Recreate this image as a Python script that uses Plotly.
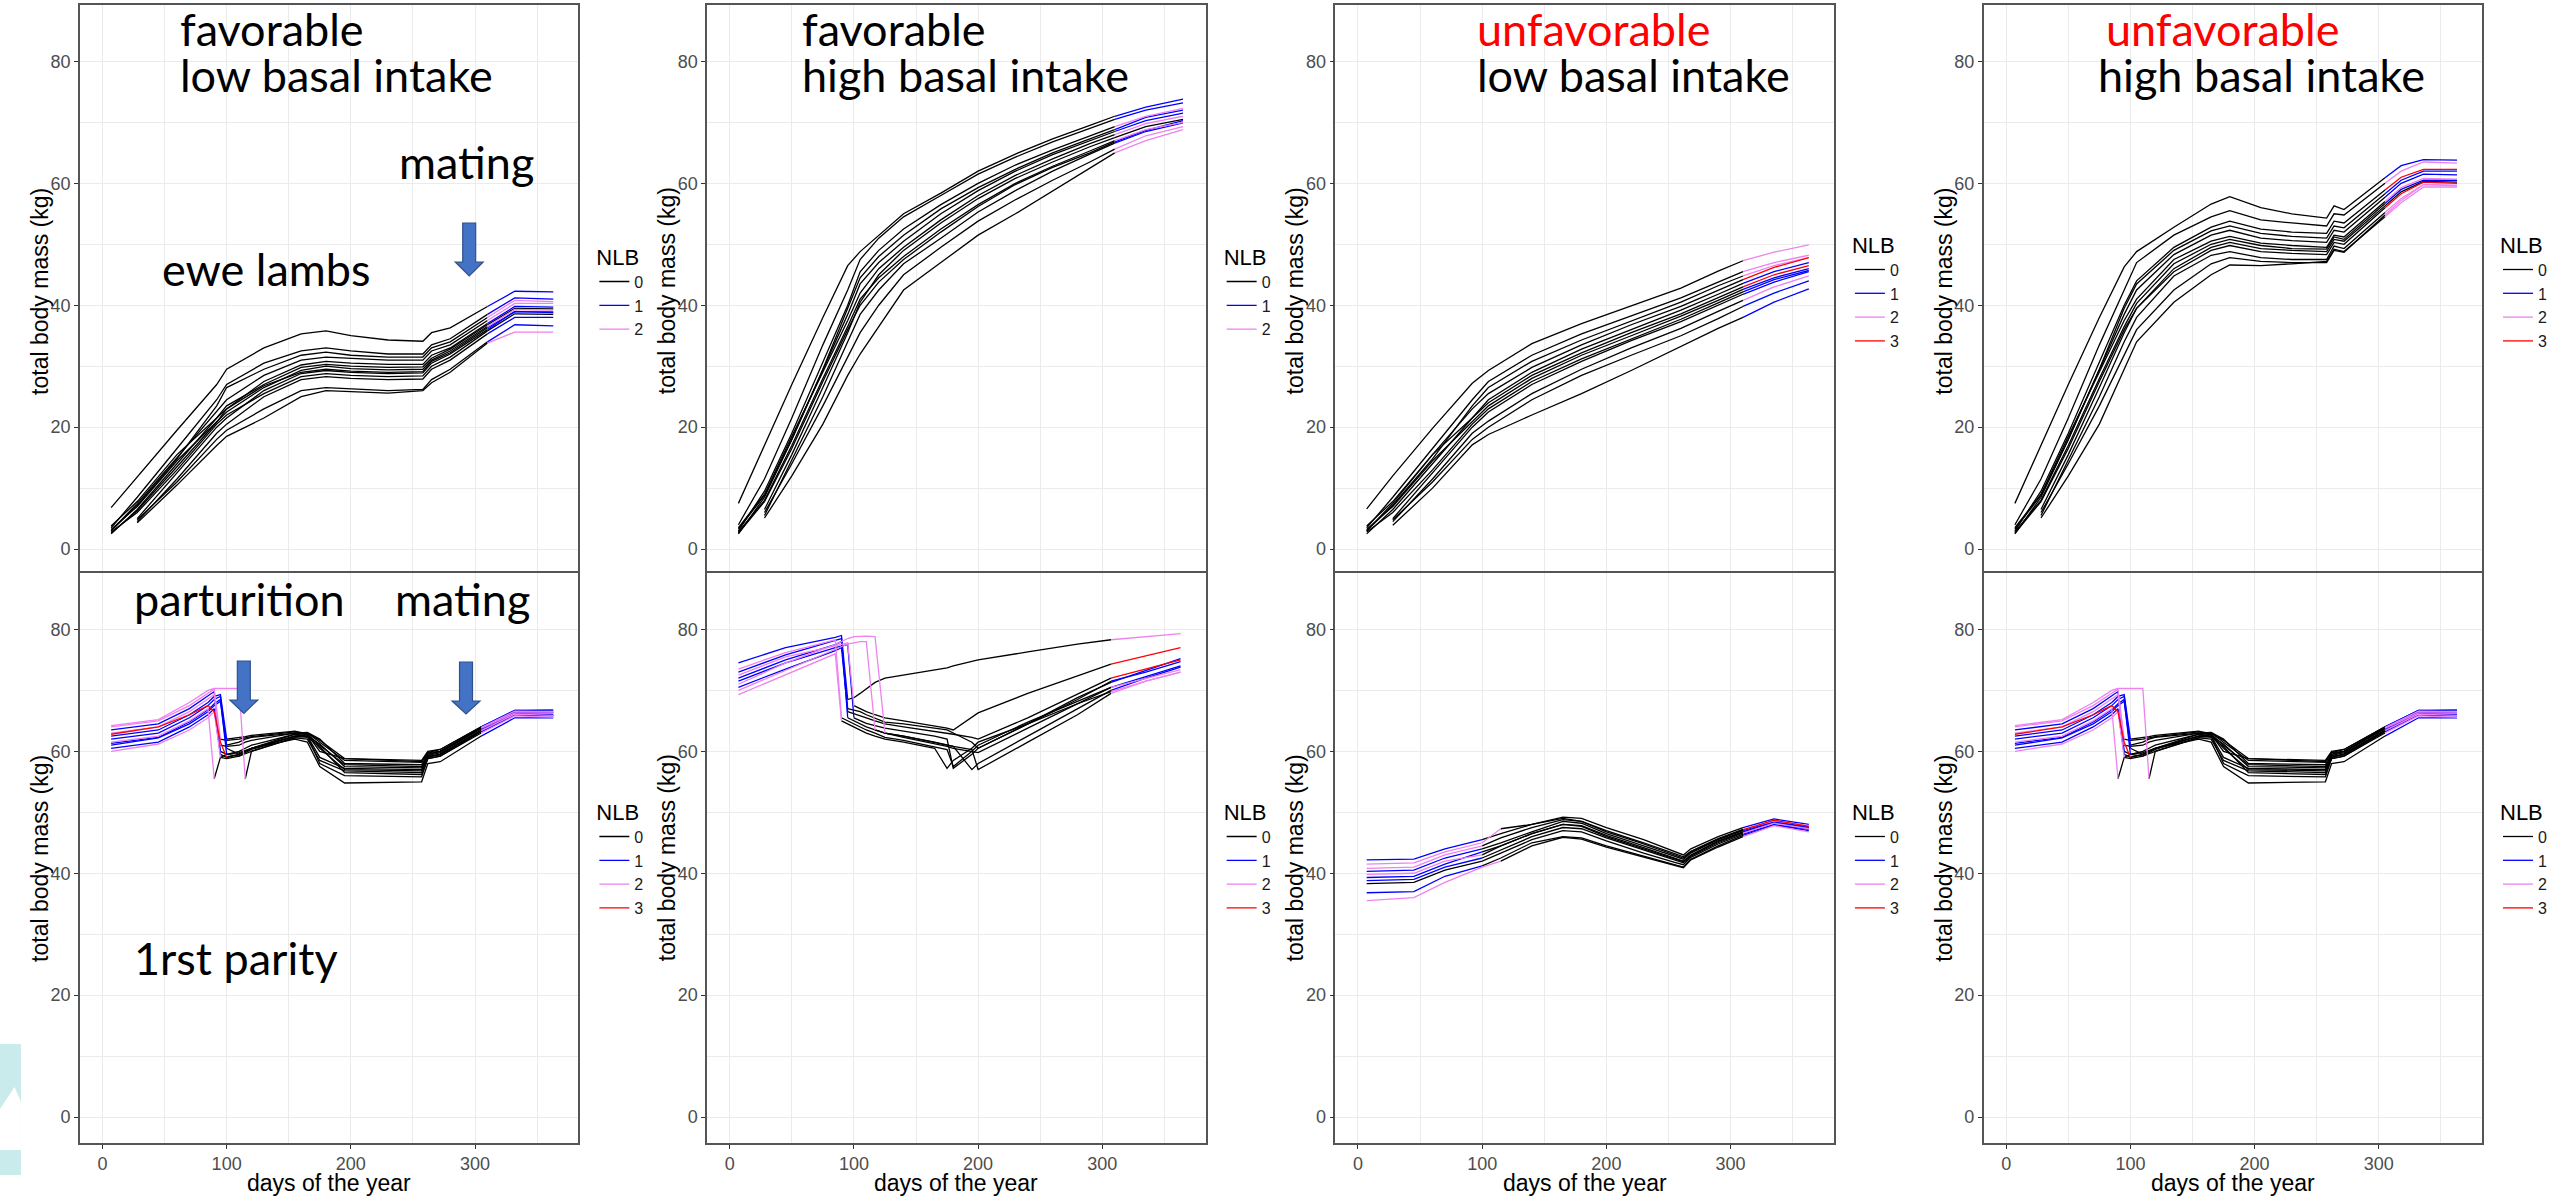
import plotly.graph_objects as go

W, H = 2552, 1197

NLB_LEVELS = [0, 1, 2, 3]
NLB_COLORS = ["black", "blue", "violet", "red"]

# ---------------- Panel 1: favorable, low basal intake (ewe lambs) ----------------
p1_days = [7, 28, 60, 92, 100, 130, 160, 180, 200, 230, 258, 265, 280, 310, 332, 363]
p1_mass = [
    [6.8, 11.9, 19.5, 27.0, 29.5, 33.0, 35.3, 35.8, 35.0, 34.3, 34.1, 35.5, 36.3, 39.8, 42.3, 42.2],
    [3.5, 8.5, 16.5, 24.5, 27.0, 30.5, 32.5, 33.0, 32.5, 32.0, 32.0, 33.5, 34.5, 38.5, 41.2, 41.0],
    [3.0, 7.5, 15.0, 22.5, 24.5, 28.5, 31.0, 31.5, 31.3, 31.0, 31.0, 32.5, 33.5, 37.5, 40.3, 40.3],
    [2.5, 6.5, 14.0, 21.5, 23.0, 27.5, 30.2, 30.8, 30.5, 30.3, 30.3, 31.8, 33.0, 37.0, 39.8, 39.7],
    [3.2, 7.0, 14.5, 21.0, 22.5, 26.5, 29.3, 30.0, 29.6, 29.4, 29.5, 31.0, 32.5, 36.5, 39.3, 39.2],
    [None, 5.0, 12.5, 20.0, 21.5, 26.0, 28.8, 29.3, 29.0, 28.8, 28.9, 30.5, 32.0, 36.0, 39.0, 38.8],
    [2.8, 6.0, 13.0, 20.5, 22.0, 25.5, 28.3, 28.8, 28.5, 28.3, 28.4, 30.0, 31.5, 35.8, 38.6, 38.5],
    [None, 4.5, 11.5, 19.0, 20.5, 25.0, 27.8, 28.3, 28.0, 27.8, 27.9, 29.5, 31.0, 35.3, 38.0, 38.0],
    [3.8, 7.8, 15.5, 21.5, 23.5, 27.0, 29.8, 30.3, 30.0, 29.8, 29.9, 31.3, 32.8, 36.8, 39.5, 39.4],
    [None, 4.8, 11.0, 18.0, 19.5, 23.0, 26.0, 26.5, 26.3, 26.0, 26.2, 27.8, 29.5, 34.0, 36.8, 36.6],
    [None, 4.3, 10.5, 17.0, 18.5, 21.5, 25.0, 26.0, 25.8, 25.6, 26.0, 27.3, 29.0, 33.8, 35.6, 35.6],
    [3.0, 7.2, 14.8, 23.5, 26.5, 29.5, 31.8, 32.3, 31.8, 31.5, 31.5, 33.0, 34.0, 38.0, 40.8, 40.6],
    [2.6, 6.3, 13.5, 20.8, 23.0, 26.8, 29.0, 29.5, 29.2, 29.0, 29.1, 30.8, 32.2, 36.3, 38.9, 38.9],
]
p1_nlb = [1, 1, 2, 1, 2, 1, 0, 1, 0, 1, 2, 2, 1]
p1_mating = 310

# ---------------- Panel 2: favorable, high basal intake ----------------
p2_days = [7, 28, 50, 75, 95, 105, 120, 140, 170, 200, 230, 260, 290, 310, 335, 365]
p2_mass = [
    [7.5, 17.0, 27.0, 38.0, 46.5, 48.8, 51.5, 55.0, 58.4, 62.0, 64.8, 67.3, 69.5, 71.0, 72.5, 73.8],
    [4.0, 11.5, 21.5, 33.5, 42.5, 47.5, 51.0, 54.5, 58.0, 61.5, 64.3, 66.8, 69.0, 70.5, 72.0, 73.2],
    [3.0, 9.5, 19.0, 30.5, 40.0, 45.5, 49.0, 52.5, 56.5, 60.0, 63.0, 65.5, 67.8, 69.3, 71.0, 72.3],
    [2.5, 8.5, 18.0, 29.5, 38.5, 43.5, 47.0, 50.5, 55.0, 58.8, 62.0, 64.7, 67.0, 68.5, 70.3, 71.5],
    [3.5, 9.0, 18.5, 29.0, 37.5, 42.0, 46.0, 49.5, 54.0, 58.0, 61.3, 64.0, 66.5, 68.0, 69.8, 71.0],
    [None, 6.5, 15.5, 26.5, 35.5, 40.5, 45.0, 49.0, 53.5, 57.5, 60.8, 63.5, 66.0, 67.5, 69.3, 70.5],
    [2.8, 8.0, 17.0, 28.0, 36.5, 41.0, 44.5, 48.0, 52.5, 56.5, 60.0, 62.8, 65.3, 67.0, 68.8, 70.0],
    [None, 5.5, 14.5, 25.0, 34.0, 38.5, 42.5, 46.8, 51.0, 55.3, 58.8, 62.0, 64.8, 66.6, 68.5, 69.9],
    [None, 5.1, 12.0, 20.5, 28.5, 32.0, 36.5, 42.5, 47.0, 51.5, 55.0, 58.7, 62.5, 65.0, 67.0, 68.8],
    [3.3, 8.8, 18.0, 29.5, 39.5, 44.5, 48.0, 51.5, 55.8, 59.3, 62.3, 65.0, 67.3, 68.8, 70.8, 72.0],
    [None, 6.0, 14.0, 23.5, 31.5, 35.5, 40.0, 45.0, 49.5, 53.8, 57.3, 60.5, 63.5, 65.6, 67.8, 69.3],
    [2.6, 7.8, 16.5, 27.5, 36.0, 40.0, 43.8, 47.5, 52.0, 56.2, 59.8, 62.6, 65.0, 66.8, 68.7, 70.3],
]
p2_nlb = [1, 1, 2, 1, 2, 0, 2, 1, 2, 1, 2, 1]
p2_mating = 310

# ---------------- Panel 3: unfavorable, low basal intake ----------------
p3_days = [7, 28, 60, 92, 105, 140, 180, 220, 260, 290, 310, 335, 363]
p3_mass = [
    [6.6, 12.0, 19.8, 27.2, 29.3, 33.7, 37.0, 39.9, 42.8, 45.6, 47.3, 48.7, 49.9],
    [3.5, 8.5, 16.5, 24.5, 27.5, 31.8, 35.3, 38.2, 41.2, 43.8, 45.5, 47.0, 48.2],
    [3.0, 7.5, 15.5, 23.0, 25.5, 29.8, 33.5, 36.8, 39.8, 42.5, 44.2, 46.2, 47.8],
    [2.5, 6.5, 14.0, 21.5, 24.0, 28.5, 32.2, 35.5, 38.6, 41.3, 43.0, 45.0, 46.5],
    [3.2, 7.0, 14.5, 21.0, 23.5, 28.0, 31.8, 35.0, 38.2, 40.8, 42.6, 44.5, 46.0],
    [None, 5.0, 12.5, 20.0, 22.5, 27.0, 30.8, 34.2, 37.3, 40.0, 41.8, 43.8, 45.5],
    [2.8, 6.0, 13.0, 20.5, 23.0, 27.5, 31.2, 34.5, 37.7, 40.4, 42.2, 44.2, 45.7],
    [None, 4.5, 11.5, 19.0, 21.0, 25.5, 29.5, 33.0, 36.2, 39.0, 40.8, 43.0, 44.8],
    [3.8, 7.8, 15.5, 21.5, 24.5, 29.0, 32.8, 36.0, 39.2, 41.8, 43.6, 45.5, 47.0],
    [None, 4.8, 11.0, 18.0, 20.0, 24.5, 28.5, 31.8, 35.0, 37.8, 39.8, 42.0, 44.0],
    [None, 3.9, 10.0, 17.1, 18.8, 22.0, 25.5, 29.3, 33.3, 36.2, 38.0, 40.5, 42.7],
    [3.0, 7.2, 14.8, 23.5, 26.5, 30.8, 34.3, 37.4, 40.5, 43.2, 44.8, 46.5, 47.8],
]
p3_nlb = [2, 2, 3, 3, 1, 1, 1, 2, 1, 1, 1, 2]
p3_mating = 310

# ---------------- Panel 4: unfavorable, high basal intake ----------------
p4_days = [7, 28, 50, 75, 95, 105, 135, 165, 180, 205, 230, 258, 264, 272, 305, 318, 336, 363]
p4_mass = [
    [7.5, 17.0, 27.0, 38.0, 46.3, 48.8, 52.8, 56.6, 57.8, 56.0, 55.0, 54.3, 56.3, 55.7, 60.9, 62.9, 63.9, 63.8],
    [4.0, 11.5, 21.5, 33.5, 42.5, 47.0, 51.5, 54.5, 55.5, 54.0, 53.5, 53.0, 55.0, 54.8, 60.0, 62.0, 63.5, 63.3],
    [3.0, 9.5, 19.0, 30.5, 40.0, 44.0, 49.5, 52.8, 53.8, 52.5, 52.0, 51.8, 53.8, 53.5, 58.9, 61.0, 62.3, 62.3],
    [2.5, 8.5, 18.0, 29.5, 38.5, 42.5, 48.3, 51.5, 52.3, 51.0, 50.6, 50.3, 52.3, 52.0, 57.7, 60.0, 61.5, 61.4],
    [3.5, 9.0, 18.5, 29.0, 37.5, 41.0, 47.5, 50.5, 51.3, 50.2, 49.8, 49.5, 51.5, 51.2, 57.0, 59.3, 60.8, 60.7],
    [None, 6.5, 15.5, 26.5, 35.5, 39.5, 46.0, 49.5, 50.3, 49.3, 49.0, 48.8, 50.8, 50.5, 56.3, 58.6, 60.3, 60.2],
    [2.8, 8.0, 17.0, 28.0, 36.5, 40.3, 46.8, 50.0, 50.8, 49.8, 49.3, 49.2, 51.2, 50.8, 56.7, 59.0, 60.5, 60.5],
    [None, 5.5, 14.5, 25.0, 34.0, 38.0, 44.8, 48.2, 48.8, 47.8, 47.5, 47.5, 49.7, 49.3, 55.2, 57.5, 59.8, 59.6],
    [None, 5.1, 12.0, 20.5, 29.5, 34.0, 40.5, 45.0, 46.6, 46.5, 46.8, 47.2, 49.2, 48.8, 54.5, 56.8, 59.4, 59.4],
    [3.3, 8.8, 18.0, 29.5, 39.5, 43.5, 49.0, 52.2, 53.0, 51.8, 51.3, 51.0, 53.0, 52.7, 58.3, 60.5, 62.0, 62.0],
    [None, 6.0, 14.0, 23.5, 32.0, 36.0, 42.5, 46.8, 47.8, 47.2, 47.0, 47.0, 49.0, 48.7, 54.8, 57.2, 59.8, 59.7],
    [2.6, 7.8, 16.5, 27.5, 36.0, 39.5, 45.5, 49.0, 49.8, 48.8, 48.5, 48.3, 50.3, 50.0, 56.0, 58.3, 60.2, 60.0],
]
p4_nlb = [1, 2, 3, 1, 2, 0, 1, 2, 2, 1, 2, 3]
p4_mating = 305

# ---------------- Panel 5: favorable, low basal intake (1rst parity) ----------------
p5_days = [7, 45, 70, 85, 90, 95, 100, 110, 115, 120, 155, 165, 175, 195, 257, 262, 272, 305, 332, 363]
p5_mass = [
    [64.0, 65.0, 67.5, 69.5, 70.2, 62.0, 61.8, 62.0, 62.2, 62.4, 63.2, 63.0, 61.5, 58.5, 58.2, 59.8, 60.3, 64.0, 66.7, 66.6],
    [63.5, 64.5, 67.0, 69.0, 69.8, 60.0, 59.5, 59.8, 60.2, 60.5, 62.5, 62.8, 61.0, 57.8, 57.5, 59.3, 59.8, 63.7, 66.4, 66.3],
    [62.8, 64.0, 66.0, 67.5, 66.5, 61.5, 59.0, 59.5, 60.0, 60.5, 62.8, 63.0, 61.8, 58.8, 58.3, 59.8, 60.0, 63.8, 66.3, 66.3],
    [62.0, 63.0, 65.5, 67.5, 68.5, 69.0, 61.0, 61.5, 62.0, 62.3, 63.0, 62.8, 60.5, 57.0, 56.8, 59.0, 59.6, 63.5, 66.2, 66.0],
    [61.0, 62.2, 64.5, 66.5, 67.5, 68.2, 60.5, 59.5, 60.0, 60.5, 62.5, 62.5, 59.0, 57.2, 57.0, 59.2, 59.4, 63.3, 66.0, 65.8],
    [60.0, 61.2, 63.5, 65.5, 66.5, 59.0, 58.8, 59.2, 59.8, 60.3, 62.5, 62.3, 60.8, 56.5, 56.2, 58.8, 59.2, 63.0, 65.8, 65.6],
    [64.2, 65.2, 68.0, 70.0, 70.3, 70.3, 70.3, 70.3, 55.5, 60.0, 62.3, 62.5, 61.2, 57.5, 57.3, 59.5, 60.0, 63.8, 66.5, 66.4],
    [61.5, 62.5, 65.0, 67.0, 55.5, 59.0, 59.5, 60.0, 60.5, 61.0, 62.8, 62.5, 58.0, 56.0, 55.8, 58.8, 59.2, 63.2, 66.0, 65.9],
    [62.5, 63.5, 66.0, 68.0, 69.0, 69.3, 62.0, 62.2, 62.4, 62.6, 63.3, 62.8, 60.0, 58.8, 58.5, 60.0, 60.3, 64.0, 66.7, 66.8],
    [60.5, 61.5, 64.0, 66.0, 67.0, 59.5, 59.0, 59.5, 60.0, 60.5, 62.0, 61.5, 57.5, 54.8, 55.0, 58.0, 58.3, 62.5, 65.5, 65.5],
    [63.0, 64.0, 66.5, 68.5, 69.3, 61.0, 60.8, 61.0, 61.5, 61.8, 63.0, 63.1, 62.0, 58.0, 57.8, 59.5, 60.0, 63.9, 66.6, 66.5],
    [61.3, 62.3, 64.8, 66.8, 67.8, 68.5, 59.5, 59.2, 59.6, 60.0, 62.2, 62.0, 58.5, 56.8, 56.5, 59.0, 59.5, 63.4, 66.1, 65.9],
]
p5_nlb = [2, 1, 3, 1, 1, 2, 2, 2, 1, 1, 2, 1]
p5_birth = [95, 95, 100, 100, 100, 95, 115, 90, 100, 95, 95, 100]
p5_next = [1, 1, 2, 1, 1, 2, 1, 1, 1, 1, 2, 2]
p5_mating = 305

# ---------------- Panel 6: favorable, high basal intake (1rst parity) ----------------
p6_days = [7, 45, 85, 90, 95, 100, 105, 110, 117, 125, 140, 165, 175, 180, 195, 200, 240, 280, 307, 335, 363]
p6_mass = [
    [74.5, 77.0, 78.7, 79.0, 68.5, 68.8, 69.5, 70.3, 71.3, 72.0, 72.5, 73.3, 73.7, 74.0, 74.7, 75.0, 76.3, 77.6, 78.3, 78.8, 79.3],
    [73.5, 76.2, 78.3, 65.5, 65.0, 64.5, 64.0, 63.5, 63.0, 62.3, 61.8, 60.8, 60.3, 57.5, 60.0, 61.0, 64.8, 68.2, 70.5, 72.0, 73.4],
    [72.0, 75.0, 77.5, 78.0, 67.0, 66.8, 66.5, 66.0, 65.5, 64.8, 64.5, 63.8, 63.5, 63.0, 61.5, 60.5, 64.5, 68.5, 71.5, 73.0, 74.7],
    [71.0, 74.5, 77.5, 78.0, 78.5, 78.8, 78.9, 78.9, 78.8, 63.0, 62.5, 61.5, 61.0, 60.8, 60.3, 57.0, 61.5, 66.0, 69.5, 71.5, 73.0],
    [71.5, 74.5, 77.0, 77.3, 77.5, 65.5, 65.0, 64.6, 64.2, 63.8, 63.3, 62.5, 62.0, 57.2, 59.5, 60.5, 64.5, 68.8, 71.3, 73.2, 75.2],
    [69.3, 72.5, 76.0, 65.0, 64.5, 64.0, 63.5, 63.0, 62.5, 62.0, 61.5, 60.5, 57.2, 58.5, 60.5, 61.5, 64.5, 67.8, 69.8, 71.5, 73.0],
    [70.5, 73.5, 76.5, 77.0, 66.5, 66.2, 65.8, 65.5, 65.0, 64.5, 64.0, 63.3, 63.0, 62.8, 62.3, 62.0, 65.5, 69.3, 72.0, 73.5, 75.0],
    [72.5, 75.5, 77.3, 77.6, 77.8, 67.5, 67.0, 66.5, 66.0, 65.5, 65.0, 64.2, 63.8, 63.5, 65.5, 66.3, 69.5, 72.3, 74.3, 75.6, 77.0],
    [73.0, 75.8, 78.2, 78.5, 65.5, 65.0, 64.5, 64.0, 63.5, 63.0, 62.5, 61.5, 61.0, 60.8, 57.0, 58.0, 62.5, 67.0, 70.0, 72.0, 73.8],
    [70.0, 73.3, 76.8, 77.2, 77.6, 77.8, 78.0, 78.0, 63.5, 63.0, 62.3, 61.3, 60.8, 60.5, 60.0, 59.8, 63.8, 67.8, 70.5, 72.3, 74.0],
]
p6_nlb = [1, 2, 1, 2, 1, 2, 1, 2, 1, 2]
p6_birth = [95, 90, 95, 125, 100, 90, 95, 100, 95, 117]
p6_next = [2, 2, 1, 2, 1, 2, 3, 3, 1, 1]
p6_mating = 307

# ---------------- Panel 7: unfavorable, low basal intake (1rst parity) ----------------
p7_days = [7, 45, 70, 100, 115, 140, 165, 180, 200, 230, 255, 262, 268, 290, 310, 335, 363]
p7_mass = [
    [42.2, 42.3, 44.0, 45.5, 46.5, 48.0, 49.2, 49.0, 47.5, 45.5, 43.5, 43.0, 44.0, 46.0, 47.5, 48.9, 48.0],
    [41.5, 41.7, 43.5, 45.0, 47.3, 48.0, 49.0, 48.5, 47.0, 45.0, 43.2, 42.7, 43.6, 45.7, 47.2, 48.6, 47.8],
    [40.3, 40.5, 42.5, 44.0, 45.0, 46.8, 48.5, 48.2, 46.5, 44.5, 42.8, 42.3, 43.3, 45.5, 47.0, 48.5, 47.6],
    [39.8, 40.0, 42.0, 43.0, 44.5, 46.5, 48.0, 47.8, 46.2, 44.2, 42.5, 42.0, 43.0, 45.3, 46.8, 48.3, 47.5],
    [38.8, 39.0, 41.0, 42.5, 43.8, 46.0, 47.5, 47.3, 45.8, 43.8, 42.2, 41.7, 42.8, 45.0, 46.6, 48.2, 47.3],
    [38.3, 38.5, 40.5, 42.0, 43.3, 45.5, 47.0, 46.8, 45.3, 43.3, 41.8, 41.4, 42.6, 44.8, 46.4, 48.0, 47.2],
    [36.8, 37.0, 39.5, 41.2, 42.5, 45.0, 46.0, 45.8, 44.5, 42.8, 41.3, 41.0, 42.3, 44.5, 46.2, 47.9, 47.0],
    [35.5, 36.0, 38.5, 41.0, 42.0, 44.5, 45.9, 45.6, 44.3, 42.6, 41.2, 40.9, 42.2, 44.3, 46.0, 47.8, 46.8],
    [39.3, 39.5, 41.5, 43.5, 44.5, 46.5, 48.0, 47.7, 46.0, 44.0, 42.4, 41.9, 42.9, 45.2, 46.7, 48.4, 47.4],
    [40.8, 41.0, 43.0, 44.5, 45.8, 47.5, 48.8, 48.5, 46.8, 44.8, 43.0, 42.5, 43.5, 45.6, 47.1, 48.7, 47.7],
]
p7_nlb = [1, 2, 1, 2, 1, 0, 1, 2, 1, 2]
p7_birth = [100, 115, 100, 100, 100, 7, 100, 115, 100, 100]
p7_next = [1, 2, 1, 1, 2, 1, 1, 2, 1, 3]
p7_mating = 310

# ---------------- Panel 8: unfavorable, high basal intake (1rst parity) — same curves as panel 5 ----------------
p8_days = p5_days
p8_mass = p5_mass
p8_nlb = p5_nlb
p8_birth = p5_birth
p8_next = p5_next
p8_mating = p5_mating

y_ticks = [0, 20, 40, 60, 80]
x_ticks = [0, 100, 200, 300]

panels = [
    dict(kind="top", days=p1_days, mass=p1_mass, nlb=p1_nlb, mating=p1_mating, levels=[0, 1, 2]),
    dict(kind="top", days=p2_days, mass=p2_mass, nlb=p2_nlb, mating=p2_mating, levels=[0, 1, 2]),
    dict(kind="top", days=p3_days, mass=p3_mass, nlb=p3_nlb, mating=p3_mating, levels=[0, 1, 2, 3]),
    dict(kind="top", days=p4_days, mass=p4_mass, nlb=p4_nlb, mating=p4_mating, levels=[0, 1, 2, 3]),
    dict(kind="bot", days=p5_days, mass=p5_mass, nlb=p5_nlb, birth=p5_birth, nxt=p5_next, mating=p5_mating, levels=[0, 1, 2, 3]),
    dict(kind="bot", days=p6_days, mass=p6_mass, nlb=p6_nlb, birth=p6_birth, nxt=p6_next, mating=p6_mating, levels=[0, 1, 2, 3]),
    dict(kind="bot", days=p7_days, mass=p7_mass, nlb=p7_nlb, birth=p7_birth, nxt=p7_next, mating=p7_mating, levels=[0, 1, 2, 3]),
    dict(kind="bot", days=p8_days, mass=p8_mass, nlb=p8_nlb, birth=p8_birth, nxt=p8_next, mating=p8_mating, levels=[0, 1, 2, 3]),
]

# ---------------- layout geometry (pixels) ----------------
COLS = [(80, 580), (709, 1209), (1339, 1839), (1989, 2489)]
ROWS = [(5, 573), (573, 1143)]
X_RANGE = [-18.25, 383.25]
Y_RANGES = [[-3.92, 89.25], [-4.25, 89.25]]


def px(x):
    return x / W


def py(y):
    return 1 - y / H


def seg(days, vals, lo, hi):
    xs, ys = [], []
    for d, v in zip(days, vals):
        if v is not None and lo <= d <= hi:
            xs.append(d)
            ys.append(v)
    return xs, ys


fig = go.Figure()
layout = dict(
    width=W, height=H, autosize=False,
    margin=dict(l=0, r=0, t=0, b=0),
    paper_bgcolor="white", plot_bgcolor="white",
    font=dict(family="Liberation Sans", color="black"),
    showlegend=True,
)
annotations = []

for i, p in enumerate(panels):
    n = i + 1
    row, col = (0, i) if i < 4 else (1, i - 4)
    xname = "x" if n == 1 else f"x{n}"
    yname = "y" if n == 1 else f"y{n}"
    lname = "legend" if n == 1 else f"legend{n}"

    buckets = {lv: ([], []) for lv in NLB_LEVELS}

    def add(lv, xs, ys):
        if len(xs) < 2:
            return
        bx, by = buckets[lv]
        bx.extend(xs + [None])
        by.extend(ys + [None])

    for k, vals in enumerate(p["mass"]):
        if p["kind"] == "top":
            add(0, *seg(p["days"], vals, -1e9, p["mating"]))
            add(p["nlb"][k], *seg(p["days"], vals, p["mating"], 1e9))
        else:
            add(p["nlb"][k], *seg(p["days"], vals, -1e9, p["birth"][k]))
            add(0, *seg(p["days"], vals, p["birth"][k], p["mating"]))
            add(p["nxt"][k], *seg(p["days"], vals, p["mating"], 1e9))

    for lv in p["levels"]:
        bx, by = buckets[lv]
        fig.add_trace(go.Scatter(
            x=bx if bx else [None], y=by if by else [None],
            mode="lines", line=dict(color=NLB_COLORS[lv], width=1.3),
            name=str(lv), xaxis=xname, yaxis=yname, legend=lname,
            showlegend=True, hoverinfo="skip",
        ))

    x0, x1 = COLS[col]
    ytop, ybot = ROWS[row]
    common = dict(
        showline=True, linecolor="#555555", linewidth=1.5, mirror=True,
        showgrid=True, gridcolor="#EBEBEB", gridwidth=1.4, zeroline=False,
        ticks="outside", ticklen=4, tickwidth=1, tickcolor="#333333",
        tickfont=dict(family="Liberation Sans", size=18, color="#4D4D4D"),
    )
    xa = dict(common, domain=[px(x0), px(x1)], anchor=yname, range=X_RANGE,
              tickmode="array", tickvals=x_ticks,
              minor=dict(tickvals=[50, 150, 250, 350], showgrid=True, gridcolor="#EBEBEB", gridwidth=0.8, ticks=""))
    if row == 0:
        # the lower edge of the top row is hidden behind the lower panels: only the top frame line
        xa.update(showticklabels=False, ticks="", side="top", mirror=False)
    else:
        annotations.append(dict(
            text="days of the year", xref="paper", yref="paper",
            x=px((x0 + x1) / 2), y=py(1183), xanchor="center", yanchor="middle", showarrow=False,
            font=dict(family="Liberation Sans", size=23, color="black"),
        ))
    ya = dict(common, domain=[py(ybot), py(ytop)], anchor=xname, range=Y_RANGES[row],
              tickmode="array", tickvals=y_ticks,
              minor=dict(tickvals=[10, 30, 50, 70], showgrid=True, gridcolor="#EBEBEB", gridwidth=0.8, ticks=""))
    annotations.append(dict(
        text="total body mass (kg)", xref="paper", yref="paper", textangle=-90,
        x=px(x0 - 40), y=py((ytop + ybot) / 2 + (2 if row == 0 else 0)),
        xanchor="center", yanchor="middle", showarrow=False,
        font=dict(family="Liberation Sans", size=23, color="black"),
    ))
    layout["xaxis" if n == 1 else f"xaxis{n}"] = xa
    layout["yaxis" if n == 1 else f"yaxis{n}"] = ya
    layout[lname] = dict(
        title=dict(text="NLB", font=dict(size=22, color="black", family="Liberation Sans"), side="top"),
        font=dict(size=16, color="#1A1A1A", family="Liberation Sans"),
        x=px(x1 + 16), xanchor="left", y=py((ytop + ybot) / 2 + (2 if row == 0 else 0)), yanchor="middle",
        bgcolor="rgba(0,0,0,0)", borderwidth=0, tracegroupgap=0, itemwidth=30,
        traceorder="normal",
    )

# ---------------- slide annotations ----------------
TXT = 45
notes = [
    ("favorable", 178, 47.5, "black"), ("low basal intake", 178, 93, "black"),
    ("mating", 398, 180, "black"), ("ewe lambs", 160, 287, "black"),
    ("favorable", 802, 47.5, "black"), ("high basal intake", 802, 93, "black"),
    ("unfavorable", 1479, 47.5, "red"), ("low basal intake", 1479, 93, "black"),
    ("unfavorable", 2110, 47.5, "red"), ("high basal intake", 2102, 93, "black"),
    ("parturition", 132, 617, "black"), ("mating", 394, 617, "black"),
    ("1rst parity", 132, 976.5, "black"),
]
for text, x, base, color in notes:
    annotations.append(dict(
        text=text, xref="paper", yref="paper", x=px(x), y=py(base + 0.213 * TXT + 1),
        xanchor="left", yanchor="bottom", showarrow=False,
        font=dict(family="Lato", size=TXT, color=color),
    ))
layout["annotations"] = annotations


def arrow_path(cx, top, head_start, tip, shaft_w=13, head_w=28):
    pts = [
        (cx - shaft_w / 2, top), (cx + shaft_w / 2, top), (cx + shaft_w / 2, head_start),
        (cx + head_w / 2, head_start), (cx, tip), (cx - head_w / 2, head_start),
        (cx - shaft_w / 2, head_start),
    ]
    return "M " + " L ".join(f"{px(a):.5f},{py(b):.5f}" for a, b in pts) + " Z"


shapes = []
for cx, top, hs, tip in [(470.5, 223, 262, 276), (244.5, 661, 700, 713.5), (467.3, 662, 701, 714)]:
    shapes.append(dict(type="path", xref="paper", yref="paper", path=arrow_path(cx, top, hs, tip),
                       fillcolor="#4472C4", line=dict(color="#2F528F", width=1.2)))
# decorative slide element at lower-left
shapes.append(dict(type="rect", xref="paper", yref="paper", x0=0, x1=px(21), y0=py(1175), y1=py(1044),
                   fillcolor="#C9EBEC", line=dict(width=0), layer="below"))
white_pts = [(0, 1150), (0, 1109), (14.6, 1087), (21, 1102), (21, 1150)]
shapes.append(dict(type="path", xref="paper", yref="paper",
                   path="M " + " L ".join(f"{px(a):.5f},{py(b):.5f}" for a, b in white_pts) + " Z",
                   fillcolor="white", line=dict(width=0), layer="below"))
layout["shapes"] = shapes

fig.update_layout(**layout)
fig.write_html(
    "out.html",
    config={"displayModeBar": False},
    post_script="document.body.style.margin='0px';document.body.style.overflow='hidden';",
)
